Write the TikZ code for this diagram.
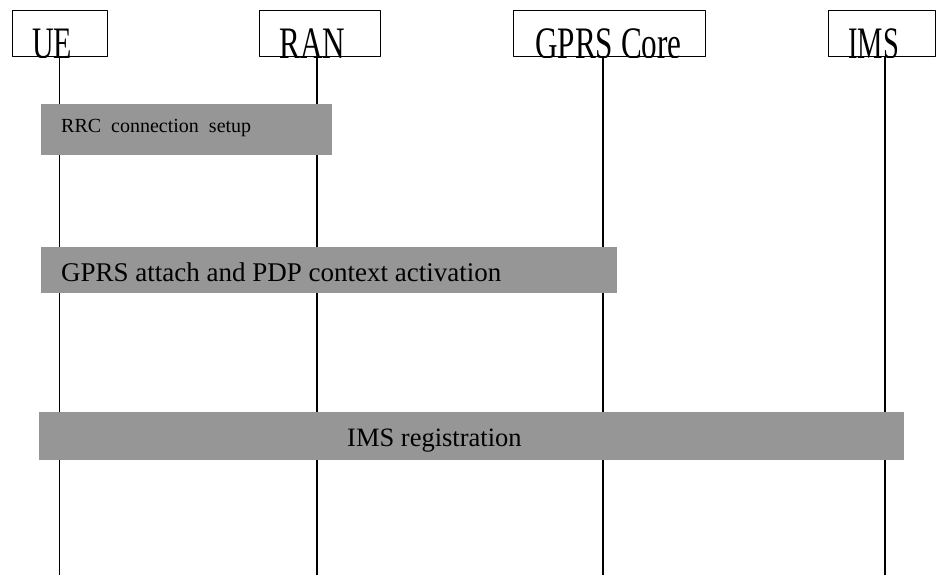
\documentclass[tikz,border=0pt]{standalone}
\usepackage{fontspec}
\setmainfont{Liberation Serif}
\definecolor{bargray}{RGB}{150,150,150}
\tikzset{
  actor/.style={draw, line width=1.2pt, minimum height=46pt, inner sep=0pt, anchor=north west},
  actorname/.style={anchor=base west, inner sep=0pt, font=\fontsize{30}{30}\selectfont},
  life/.style={line width=1.2pt},
  bar/.style={fill=bargray, inner sep=0pt, anchor=north west},
  msg/.style={anchor=base west, inner sep=0pt},
}
\begin{document}
\begin{tikzpicture}[x=1pt, y=-1pt, line join=round]
	\useasboundingbox (0,0) rectangle (936,575);
	% actor boxes
	\node[actor, minimum width=95pt] (ue) at (12,10) {};
	\node[actor, minimum width=121pt] (ran) at (259,10) {};
	\node[actor, minimum width=192pt] (core) at (513,10) {};
	\node[actor, minimum width=107pt] (ims) at (828,10) {};
	% names, cut off at the bottom of the box
	\begin{scope}
		\clip (ue.south west) rectangle (ue.north east);
		\node[actorname] (uename) at (32,59) {\scalebox{1}[1.5]{UE}};
	\end{scope}
	\begin{scope}
		\clip (ran.south west) rectangle (ran.north east);
		\node[actorname] (ranname) at (279,59) {\scalebox{1.04}[1.5]{RAN}};
	\end{scope}
	\begin{scope}
		\clip (core.south west) rectangle (core.north east);
		\node[actorname] (corename) at (535,59) {\scalebox{1.04}[1.5]{GPRS Core}};
	\end{scope}
	\begin{scope}
		\clip (ims.south west) rectangle (ims.north east);
		\node[actorname] (imsname) at (848,59) {\scalebox{0.95}[1.5]{IMS}};
	\end{scope}
	% lifelines
	\coordinate (uebot) at (59.5,575);
	\coordinate (ranbot) at (317,575);
	\coordinate (corebot) at (603,575);
	\coordinate (imsbot) at (885,575);
	\draw[life] (uebot |- ue.south) -- (uebot);
	\draw[life] (ranbot |- ran.south) -- (ranbot);
	\draw[life] (corebot |- core.south) -- (corebot);
	\draw[life] (imsbot |- ims.south) -- (imsbot);
	% procedures
	\node[bar, minimum width=291pt, minimum height=51pt] (rrc) at (41,104) {};
	\node[msg, font=\fontsize{20}{20}\selectfont] (rrctxt)
		at ([xshift=20pt, yshift=-28pt]rrc.north west) {\spaceskip=10pt RRC connection setup};
	\node[bar, minimum width=576pt, minimum height=46pt] (attach) at (41,247) {};
	\node[msg, font=\fontsize{27}{27}\selectfont] (attachtxt)
		at ([xshift=20pt, yshift=-34pt]attach.north west) {GPRS attach and PDP context activation};
	\node[bar, minimum width=865pt, minimum height=48pt] (reg) at (39,412) {};
	\node[msg, font=\fontsize{26.5}{26.5}\selectfont] (regtxt)
		at ([xshift=308pt, yshift=-34pt]reg.north west) {IMS registration};
\end{tikzpicture}
\end{document}
